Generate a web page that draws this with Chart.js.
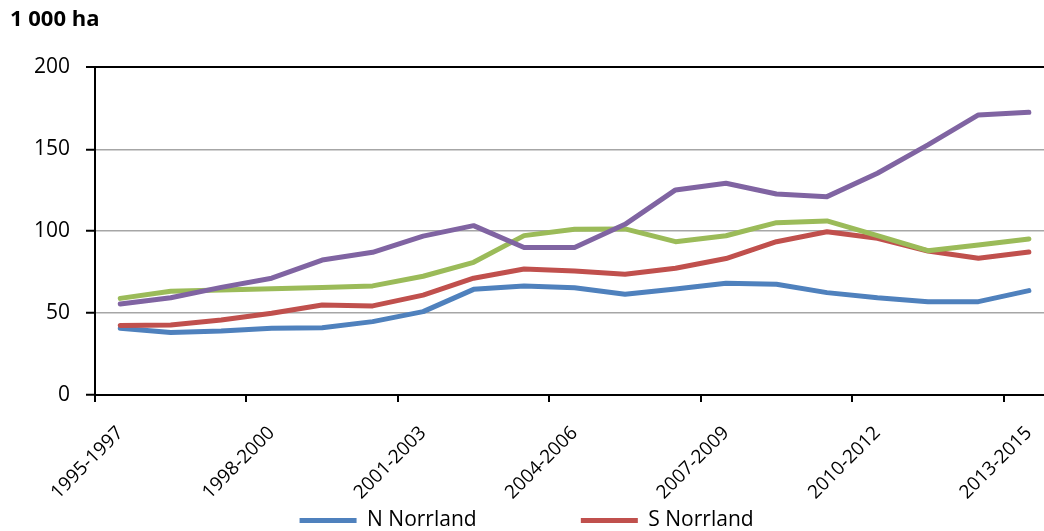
<!DOCTYPE html>
<html>
<head>
<meta charset="utf-8">
<script src="https://cdn.jsdelivr.net/npm/chart.js@4/dist/chart.umd.min.js"></script>
<style>
    html, body { margin: 0; padding: 0; background: #fff; overflow: hidden; }
    #wrap { width: 1044px; height: 531px; overflow: hidden; }
</style>
</head>
<body>
<div id="wrap"><canvas id="areaChart" width="1065" height="541"></canvas></div>
<script>
const periods = [
    '1995-1997', '1996-1998', '1997-1999', '1998-2000', '1999-2001', '2000-2002', '2001-2003',
    '2002-2004', '2003-2005', '2004-2006', '2005-2007', '2006-2008', '2007-2009', '2008-2010',
    '2009-2011', '2010-2012', '2011-2013', '2012-2014', '2013-2015',
];
const nNorrland = [40.7, 38.1, 39.0, 40.7, 41.1, 44.8, 50.9, 64.5, 66.6, 65.5, 61.5, 64.7, 68.2, 67.6, 62.5, 59.4, 57.0, 57.0, 63.7];
const sNorrland = [42.5, 42.7, 45.8, 49.9, 55.0, 54.4, 61.0, 71.3, 76.9, 75.7, 73.7, 77.4, 83.3, 93.6, 99.7, 95.7, 87.9, 83.5, 87.3];
const svealand = [59.0, 63.3, 64.1, 64.9, 65.7, 66.6, 72.5, 81.0, 97.3, 101.2, 101.4, 93.6, 97.2, 105.2, 106.3, 97.3, 88.1, 91.6, 95.3];
const gotaland = [55.6, 59.4, 65.7, 71.3, 82.4, 87.1, 97.0, 103.4, 90.0, 90.0, 104.2, 125.2, 129.3, 122.7, 121.1, 135.4, 152.7, 171.0, 172.6];
const seriesNames = ['N Norrland', 'S Norrland', 'Svealand', 'Götaland'];
const yTicks = [0, 50, 100, 150, 200];

const colors = ['#4f81bd', '#c0504d', '#9bbb59', '#8064a2'];
const font = 'Open Sans, Noto Sans, sans-serif';

const series = [nNorrland, sNorrland, svealand, gotaland];

// extra room after each legend text, the Excel legend spaces its items widely
const legendGap = [18, 4];

new Chart(document.getElementById('areaChart'), {
    type: 'line',
    data: {
        labels: periods,
        datasets: series.map((values, i) => ({
            label: seriesNames[i],
            data: values,
            borderColor: colors[i],
            backgroundColor: colors[i],
            borderWidth: 5,
            borderCapStyle: 'round',
            borderJoinStyle: 'round',
            pointRadius: 0,
            pointStyle: 'line',
            tension: 0,
            order: series.length - i,
        })),
    },
    options: {
        responsive: false,
        animation: false,
        layout: { padding: { left: 10, right: 0, top: 0, bottom: 0 } },
        plugins: {
            tooltip: { enabled: false },
            title: {
                display: true,
                text: '1 000 ha',
                align: 'start',
                color: '#000',
                font: { family: font, size: 22, weight: 'bold' },
                padding: { top: 7, bottom: 34 },
            },
            legend: {
                position: 'bottom',
                labels: {
                    color: '#000',
                    font: { family: font, size: 21 },
                    usePointStyle: true,
                    pointStyle: 'line',
                    pointStyleWidth: 57,
                    boxHeight: 4,
                    padding: 6,
                    // only the first legend row shows in the picture
                    filter: (item) => item.datasetIndex < 2,
                    sort: (a, b) => a.datasetIndex - b.datasetIndex,
                    generateLabels: (chart) => {
                        const items = Chart.defaults.plugins.legend.labels.generateLabels(chart);
                        items.forEach((item) => {
                            item.text += ' '.repeat(legendGap[item.datasetIndex] || 0);
                        });
                        return items;
                    },
                },
            },
        },
        scales: {
            x: {
                offset: true,
                afterFit: (scale) => { scale.height = 109; },
                border: { color: '#000', width: 2 },
                grid: {
                    offset: true,
                    drawOnChartArea: false,
                    tickLength: 7,
                    lineWidth: 2,
                    tickColor: (ctx) => (ctx.index % 3 === 0 ? '#000' : 'rgba(0,0,0,0)'),
                },
                ticks: {
                    autoSkip: false,
                    maxRotation: 45,
                    minRotation: 45,
                    padding: 20,
                    color: '#000',
                    font: { family: font, size: 19 },
                    callback: (value, index) => (index % 3 === 0 ? periods[index] : ''),
                },
            },
            y: {
                min: yTicks[0],
                max: yTicks[yTicks.length - 1],
                afterFit: (scale) => { scale.width = 85; },
                afterBuildTicks: (scale) => { scale.ticks = yTicks.map((v) => ({ value: v })); },
                border: { color: '#000', width: 2 },
                grid: {
                    color: (ctx) => (ctx.tick && ctx.tick.value === 200 ? '#000' : '#a6a6a6'),
                    lineWidth: (ctx) => (ctx.tick && ctx.tick.value === 200 ? 2 : 1.5),
                    tickColor: '#000',
                    tickWidth: 2,
                    tickLength: 9,
                },
                ticks: {
                    color: '#000',
                    padding: 16,
                    font: { family: font, size: 21 },
                },
            },
        },
    },
});
</script>
</body>
</html>
